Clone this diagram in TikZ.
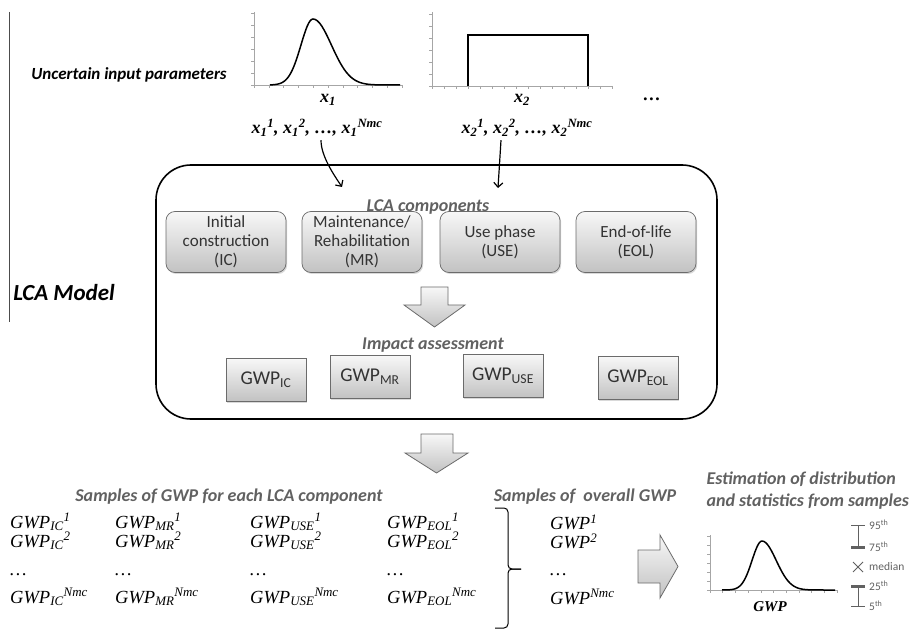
\documentclass[tikz,border=0pt]{standalone}
\usepackage{fontspec}
\setmainfont{Liberation Serif}
\newfontfamily\calibri{Carlito}
\usetikzlibrary{arrows.meta, shadows}

\definecolor{headgray}{gray}{0.38}
\definecolor{boxline}{gray}{0.42}
\definecolor{boxtop}{gray}{0.97}
\definecolor{boxbot}{gray}{0.76}
\definecolor{axisgray}{gray}{0.65}

\begin{document}
\begin{tikzpicture}[x=1pt, y=-1pt,
  comp/.style={draw=boxline, line width=0.7pt, rounded corners=9pt,
    top color=boxtop, bottom color=boxbot, minimum width=120pt,
    minimum height=61pt, align=center, text=black!80,
    font=\calibri\fontsize{17}{19}\selectfont,
    drop shadow={opacity=0.3, shadow xshift=1.2pt, shadow yshift=-1.5pt}},
  gwpbox/.style={comp, sharp corners, minimum width=80pt, minimum height=43pt,
    font=\calibri\fontsize{19.5}{22}\selectfont},
  head/.style={text=headgray, font=\calibri\bfseries\itshape\fontsize{18}{22}\selectfont},
  xlab/.style={font=\bfseries\itshape\fontsize{18}{20}\selectfont},
  samp/.style={anchor=west, inner sep=0pt, font=\itshape\fontsize{18.5}{20}\selectfont},
  hollow/.style={draw=boxline, line width=0.8pt, top color=boxtop, bottom color=boxbot},
  axis/.style={draw=axisgray, line width=0.6pt},
  curve/.style={line width=1.5pt, line join=round},
  conn/.style={line width=1.2pt, -{Straight Barb[length=4.5pt, width=9pt]}},
  leg/.style={anchor=west, inner sep=0pt, text=headgray, font=\calibri\fontsize{11.5}{13}\selectfont},
  legline/.style={draw=headgray, line width=0.8pt}]
  \useasboundingbox (0,0) rectangle (914,631);

  % input parameters
  \draw[line width=0.8pt, black!70] (9,12) -- (9,322);
  \node[font=\calibri\bfseries\itshape\fontsize{17}{20}\selectfont] (uncertain) at (129,75) {Uncertain input parameters};
  \node[font=\calibri\bfseries\itshape\fontsize{23}{26}\selectfont] (lcamodel) at (64,293) {LCA Model};

  % x_1 distribution
  \draw[axis] (254,12) -- (254,85) -- (402,85);
  \foreach \k in {0,...,6}
    \draw[axis] (254,{85-12*\k}) -- ++(-3,0);
  \foreach \k in {0,...,10}
    \draw[axis] ({254+14.8*\k},85) -- ++(0,3);
  \draw[curve] plot[domain=270:313, samples=30] (\x,{85-66*exp(-((\x-313)/17)*((\x-313)/17))})
    -- plot[domain=313:400, samples=40] (\x,{85-66*exp(-((\x-313)/26)*((\x-313)/26))});

  % x_2 distribution
  \draw[axis] (432,12) -- (432,86) -- (612,86);
  \foreach \k in {0,...,6}
    \draw[axis] (432,{86-12*\k}) -- ++(-3,0);
  \foreach \k in {0,...,15}
    \draw[axis] ({432+12*\k},86) -- ++(0,3);
  \draw[curve, line join=miter] (468,86) -- (468,35) -- (588,35) -- (588,86);

  \node[xlab] (xone) at (328,100) {x\textsubscript{1}};
  \node[xlab] (xtwo) at (522,100) {x\textsubscript{2}};
  \node[xlab] (xdots) at (652,99) {…};
  \node[xlab] (xsone) at (317,128) {x\textsubscript{1}\textsuperscript{1}, x\textsubscript{1}\textsuperscript{2}, …, x\textsubscript{1}\textsuperscript{Nmc}};
  \node[xlab] (xstwo) at (527,128) {x\textsubscript{2}\textsuperscript{1}, x\textsubscript{2}\textsuperscript{2}, …, x\textsubscript{2}\textsuperscript{Nmc}};

  % LCA model
  \node[draw, line width=1.6pt, rounded corners=35pt, minimum width=561pt,
    minimum height=254pt] (lcabox) at (436.5,292) {};
  \coordinate (inone) at (342,187);
  \coordinate (intwo) at (498,188);
  \draw[conn] ([xshift=4pt]xsone.south) .. controls +(0,16) and +(-8,-12) .. (inone);
  \draw[conn] ([xshift=-26pt]xstwo.south) -- (intwo);

  \node[head] (comphead) at (428,207) {LCA components};
  \node[comp] (ic) at (226,242) {Initial\\construction\\(IC)};
  \node[comp] (mr) at (362,242) {Maintenance/\\Rehabilitation\\(MR)};
  \node[comp] (usephase) at (500,242) {Use phase\\(USE)};
  \node[comp] (eol) at (636,242) {End-of-life\\(EOL)};

  \draw[hollow] (421,287) -- (448,287) -- (448,305) -- (465,305) -- (434.5,327)
    -- (404,305) -- (421,305) -- cycle;

  \node[head] (imphead) at (433,345) {Impact assessment};
  \node[gwpbox] (gwpic) at (266,380) {GWP\textsubscript{IC}};
  \node[gwpbox] (gwpmr) at (370,377) {GWP\textsubscript{MR}};
  \node[gwpbox] (gwpuse) at (503,376) {GWP\textsubscript{USE}};
  \node[gwpbox] (gwpeol) at (638,378) {GWP\textsubscript{EOL}};

  \draw[hollow] (421,434) -- (453,434) -- (453,453) -- (468,453) -- (436.5,473)
    -- (405,453) -- (421,453) -- cycle;

  % samples
  \node[head] (samphead) at (229,497) {Samples of GWP for each LCA component};
  \foreach \c/\s/\n in {10/IC/ic, 115/MR/mr, 250/USE/use, 387/EOL/eol} {
    \node[samp] (s\n one) at (\c,522) {GWP\textsubscript{\s}\textsuperscript{1}};
    \node[samp] (s\n two) at (\c,541) {GWP\textsubscript{\s}\textsuperscript{2}};
    \node[samp] (s\n dots) at (\c,575) {…};
    \node[samp] (s\n last) at (\c,597) {GWP\textsubscript{\s}\textsuperscript{Nmc}};
  }
  \draw[line width=1pt, rounded corners=4pt] (495,508) -| (508,569) -- (521,569);
  \draw[line width=1pt, rounded corners=4pt] (521,569) -- (508,569) |- (495,628);

  \node[head] (allhead) at (585,497) {Samples of\ \ overall GWP};
  \node[samp] (gwpone) at (550,522) {GWP\textsuperscript{1}};
  \node[samp] (gwptwo) at (550,541) {GWP\textsuperscript{2}};
  \node[samp] (gwpdots) at (550,575) {…};
  \node[samp] (gwplast) at (550,597) {GWP\textsuperscript{Nmc}};

  \draw[hollow] (638,550) -- (660,550) -- (660,535) -- (678,566.5) -- (660,598)
    -- (660,583) -- (638,583) -- cycle;

  % estimated distribution
  \node[head, align=left, anchor=west] (esthead) at (703,491) {Estimation of distribution\\and statistics from samples};
  \draw[axis] (710,535) -- (710,590) -- (837,590);
  \foreach \k in {0,...,6}
    \draw[axis] (710,{590-9*\k}) -- ++(-3,0);
  \foreach \k in {0,...,10}
    \draw[axis] ({710+12.7*\k},590) -- ++(0,3);
  \draw[curve] plot[domain=722:762, samples=30] (\x,{590-49*exp(-((\x-762)/14)*((\x-762)/14))})
    -- plot[domain=762:835, samples=40] (\x,{590-49*exp(-((\x-762)/20)*((\x-762)/20))});
  \node[font=\bfseries\itshape\fontsize{15}{17}\selectfont] (gwplab) at (770,607) {GWP};

  % box plot legend
  \draw[legline] (851,525) -- (865,525) (858,525) -- (858,547);
  \draw[legline, line width=3pt] (851,547) -- (865,547);
  \draw[legline] (853,562) -- (863,572) (853,572) -- (863,562);
  \draw[legline, line width=3pt] (851,586) -- (865,586);
  \draw[legline] (858,586) -- (858,606) (851,606) -- (865,606);
  \node[leg] (p95) at (869,525) {95\textsuperscript{th}};
  \node[leg] (p75) at (869,547) {75\textsuperscript{th}};
  \node[leg] (pmed) at (869,567) {median};
  \node[leg] (p25) at (869,586) {25\textsuperscript{th}};
  \node[leg] (p5) at (869,606) {5\textsuperscript{th}};
\end{tikzpicture}
\end{document}
